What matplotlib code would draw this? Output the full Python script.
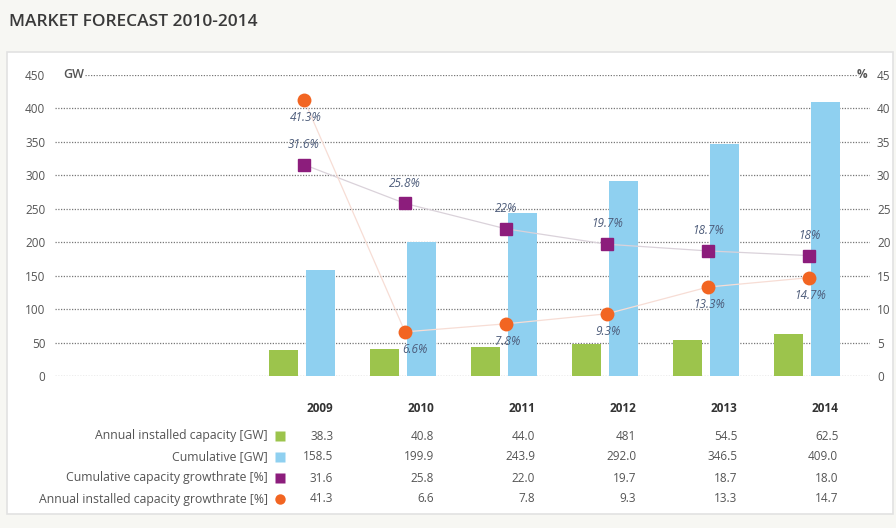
import numpy as np
import matplotlib.pyplot as plt
from matplotlib.patches import Rectangle
from matplotlib.lines import Line2D
import matplotlib.transforms as mtransforms

plt.rcParams["font.family"] = ["Open Sans", "DejaVu Sans"]

# ------------------------------------------------------------
# data
# ------------------------------------------------------------
years = ["2009", "2010", "2011", "2012", "2013", "2014"]
annual_gw = [38.3, 40.8, 44.0, 48.1, 54.5, 62.5]
cumulative_gw = [158.5, 199.9, 243.9, 292.0, 346.5, 409.0]
cum_growth = [31.6, 25.8, 22.0, 19.7, 18.7, 18.0]
annual_growth = [41.3, 6.6, 7.8, 9.3, 13.3, 14.7]

# table text exactly as printed
annual_txt = ["38.3", "40.8", "44.0", "481", "54.5", "62.5"]
cumulative_txt = ["158.5", "199.9", "243.9", "292.0", "346.5", "409.0"]
cum_growth_txt = ["31.6", "25.8", "22.0", "19.7", "18.7", "18.0"]
annual_growth_txt = ["41.3", "6.6", "7.8", "9.3", "13.3", "14.7"]
cum_lbl = ["31.6%", "25.8%", "22%", "19.7%", "18.7%", "18%"]
ann_lbl = ["41.3%", "6.6%", "7.8%", "9.3%", "13.3%", "14.7%"]

gw_ticks = [0, 50, 100, 150, 200, 250, 300, 350, 400, 450]
pct_ticks = [0, 5, 10, 15, 20, 25, 30, 35, 40, 45]

GREEN = "#9cc44c"
BLUE = "#8fd0f0"
PURPLE = "#8c1d7c"
ORANGE = "#f26522"
LBL = "#4d5c7a"
GRID = "#777777"

W, H = 896, 528
fig = plt.figure(figsize=(W / 100, H / 100), dpi=100)
fig.patch.set_facecolor("#f7f7f3")

# white panel with light frame
fig.patches.append(Rectangle((7 / W, 14 / H), 886 / W, (H - 52 - 14) / H,
                             transform=fig.transFigure, facecolor="white",
                             edgecolor="#e2e2e2", lw=1.2, zorder=-5))
fig.text(9 / W, 1 - 22 / H, "MARKET FORECAST 2010-2014", fontsize=12.5,
         fontweight="semibold", color="#3a3a3a", va="center", ha="left")

# ------------------------------------------------------------
# chart axes
# ------------------------------------------------------------
left_px, right_px, top_px, bot_px = 55, 870, 75, 376
ax = fig.add_axes([left_px / W, 1 - bot_px / H,
                   (right_px - left_px) / W, (bot_px - top_px) / H])
ax.set_facecolor("none")
x = np.arange(len(years))
ax.set_xlim(-(304 - left_px) / 101, (right_px - 304) / 101)
ax.set_ylim(0, 450)

for v in gw_ticks:
    xmin = 30 / (right_px - left_px) if v == 450 else 0
    xmax = (858 - left_px) / (right_px - left_px) if v == 450 else 1
    ax.axhline(v, xmin=xmin, xmax=xmax, color=GRID, lw=0.9,
               ls=(0, (1, 1.2)), zorder=1)

ax.bar(x - 0.2, annual_gw, width=0.29, color=GREEN, zorder=2)
ax.bar(x + 0.16, cumulative_gw, width=0.29, color=BLUE, zorder=2)

for s in ax.spines.values():
    s.set_visible(False)
ax.set_xticks([])
ax.set_yticks(gw_ticks)
ax.tick_params(axis="y", length=0, pad=7, labelsize=8.5, labelcolor="#555555")
ax.text(8 / (right_px - left_px), 450, "GW", transform=ax.get_yaxis_transform(),
        fontsize=9, fontweight="semibold", color="#555555", va="center", ha="left")

ax2 = ax.twinx()
ax2.set_ylim(0, 45)
ax2.set_yticks(pct_ticks)
for s in ax2.spines.values():
    s.set_visible(False)
ax2.tick_params(axis="y", length=0, pad=5, labelsize=8.5, labelcolor="#555555")
ax2.text((857 - left_px) / (right_px - left_px), 45, "%",
         transform=ax2.get_yaxis_transform(), fontsize=8.5, fontweight="bold",
         color="#555555", va="center", ha="left")

ax2.plot(x, cum_growth, color="#dad2da", lw=0.9, zorder=3)
ax2.plot(x, annual_growth, color="#f7ddd5", lw=0.9, zorder=3)
ax2.plot(x, cum_growth, ls="none", marker="s", ms=8, color=PURPLE, zorder=4)
ax2.plot(x, annual_growth, ls="none", marker="o", ms=10, color=ORANGE,
         mec="none", zorder=4)

for i in range(len(years)):
    ax2.annotate(cum_lbl[i], (x[i], cum_growth[i]), xytext=(0, 10),
                 textcoords="offset points", ha="center", va="bottom",
                 fontsize=8.5, style="italic", color=LBL, zorder=5)
    dx = 7 if i == 1 else 1
    ax2.annotate(ann_lbl[i], (x[i], annual_growth[i]), xytext=(dx, -8),
                 textcoords="offset points", ha="center", va="top",
                 fontsize=8.5, style="italic", color=LBL, zorder=5)

# ------------------------------------------------------------
# table below the chart
# ------------------------------------------------------------
tr = mtransforms.blended_transform_factory(ax.transData, fig.transFigure)
col_x = x + 0.29
fig_y = lambda py: 1 - py / H

for i, yr in enumerate(years):
    fig.text(col_x[i], fig_y(409), yr, transform=tr, ha="right", va="center",
             fontsize=8.5, fontweight="bold", color="#333333")

rows = [
    ("Annual installed capacity [GW]", annual_txt, GREEN, "s"),
    ("Cumulative [GW]", cumulative_txt, BLUE, "s"),
    ("Cumulative capacity growthrate [%]", cum_growth_txt, PURPLE, "s"),
    ("Annual installed capacity growthrate [%]", annual_growth_txt, ORANGE, "o"),
]
row_y = [436, 457, 478, 499]
for (label, vals, col, mk), py in zip(rows, row_y):
    fig.text(268 / W, fig_y(py), label, ha="right", va="center",
             fontsize=8.8, color="#555555")
    fig.add_artist(Line2D([280 / W], [fig_y(py)], marker=mk, ms=7.5,
                          color=col, mec="none", transform=fig.transFigure))
    for i, v in enumerate(vals):
        fig.text(col_x[i], fig_y(py), v, transform=tr, ha="right", va="center",
                 fontsize=8.5, color="#555555")

fig.savefig("out.png", dpi=100, facecolor=fig.get_facecolor())
